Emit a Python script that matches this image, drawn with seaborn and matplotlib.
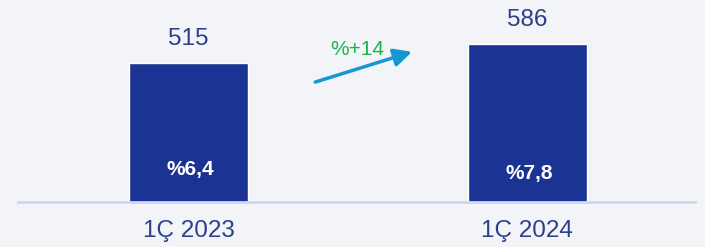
import matplotlib
matplotlib.use("Agg")
import matplotlib.pyplot as plt
import seaborn as sns
import pandas as pd

periods = ["1Ç 2023", "1Ç 2024"]
values = [515, 586]
shares = ["%6,4", "%7,8"]
growth = "%+14"

bg = "#f2f4f7"
bar_color = "#1b3494"
text_color = "#2b3f8e"

sns.set_theme(style="white")
plt.rcParams["font.family"] = ["Liberation Sans", "DejaVu Sans"]

df = pd.DataFrame({"period": periods, "value": values})

fig = plt.figure(figsize=(7.05, 2.47), dpi=100, facecolor=bg)
ax = fig.add_axes([18 / 705, 45 / 247, 677 / 705, 202 / 247])
ax.set_facecolor(bg)

sns.barplot(data=df, x="period", y="value", color=bar_color, width=0.352,
            saturation=1, ax=ax)

ax.set_xlim(-0.504, 1.496)
ax.set_ylim(0, 748)

for i, (v, s) in enumerate(zip(values, shares)):
    ax.text(i, v + 89, str(v), ha="center", va="center", fontsize=17.5, color=text_color)
    ax.text(i + 0.005, 122 - i * 18, s, ha="center", va="center", fontsize=15,
            fontweight="bold", color="white")

# growth arrow between the bars
ax.annotate("", xy=(0.660, 556), xytext=(0.374, 444),
            arrowprops=dict(arrowstyle="-|>,head_length=0.9,head_width=0.45",
                            color="#1896d3", lw=2.5, shrinkA=0, shrinkB=0))
ax.text(0.497, 565, growth, ha="center", va="center", fontsize=15, color="#1fb34f")

for side in ["top", "right", "left"]:
    ax.spines[side].set_visible(False)
ax.spines["bottom"].set_color("#cdd6f4")
ax.spines["bottom"].set_linewidth(2)

ax.set_yticks([])
ax.set_xlabel("")
ax.set_ylabel("")
ax.tick_params(axis="x", length=0, pad=13, labelsize=17.5, labelcolor=text_color)

fig.savefig("out.png", dpi=100, facecolor=bg)
